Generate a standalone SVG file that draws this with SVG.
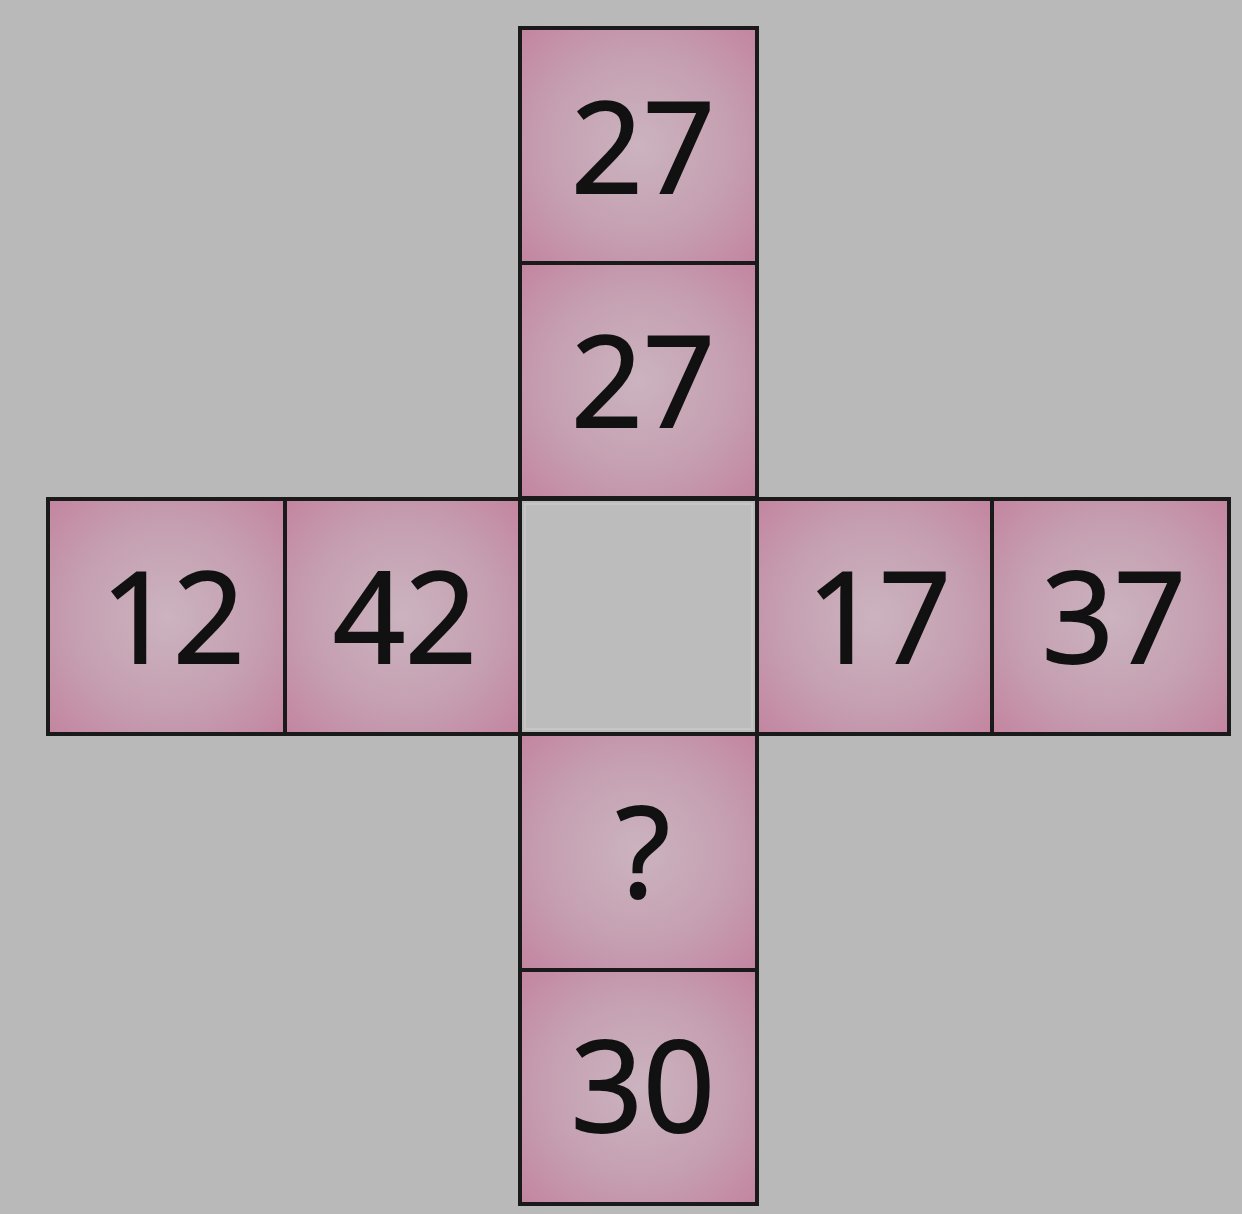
<svg xmlns="http://www.w3.org/2000/svg" width="1242" height="1214" viewBox="0 0 1242 1214">
<defs>
<radialGradient id="pink" cx="0.5" cy="0.5" r="0.72">
<stop offset="0" stop-color="#cbb3bf"/>
<stop offset="0.55" stop-color="#c59fb1"/>
<stop offset="1" stop-color="#c3839f"/>
</radialGradient>
</defs>
<style>
.cell{fill:url(#pink);stroke:#1a1a1a;stroke-width:4}
.blank{fill:#bcbcbc;stroke:#1a1a1a;stroke-width:4}
.num{font-family:"Open Sans","Noto Sans",sans-serif;font-size:126px;fill:#111;stroke:#111;stroke-width:2;text-anchor:middle}
</style>
<rect width="1242" height="1214" fill="#b9b9b9"/>
<g id="cell-top1"><rect class="cell" x="520" y="28" width="237" height="235"/><text class="num" x="643" y="193">27</text></g>
<g id="cell-top2"><rect class="cell" x="520" y="263" width="237" height="235"/><text class="num" x="643" y="427">27</text></g>
<g id="cell-left1"><rect class="cell" x="48" y="499" width="237" height="235"/><text class="num" x="173" y="663">12</text></g>
<g id="cell-left2"><rect class="cell" x="285" y="499" width="235" height="235"/><text class="num" x="405" y="663">42</text></g>
<g id="cell-center"><rect class="blank" x="520" y="499" width="237" height="235"/><rect x="525" y="504" width="227" height="225" fill="none" stroke="#c6c6c6" stroke-width="2"/></g>
<g id="cell-right1"><rect class="cell" x="757" y="499" width="235" height="235"/><text class="num" x="879" y="663">17</text></g>
<g id="cell-right2"><rect class="cell" x="992" y="499" width="237" height="235"/><text class="num" x="1114" y="663">37</text></g>
<g id="cell-bottom1"><rect class="cell" x="520" y="734" width="237" height="236"/><text class="num" x="643" y="897">?</text></g>
<g id="cell-bottom2"><rect class="cell" x="520" y="970" width="237" height="234"/><text class="num" x="643" y="1132">30</text></g>
<g id="connectors"></g>
</svg>
